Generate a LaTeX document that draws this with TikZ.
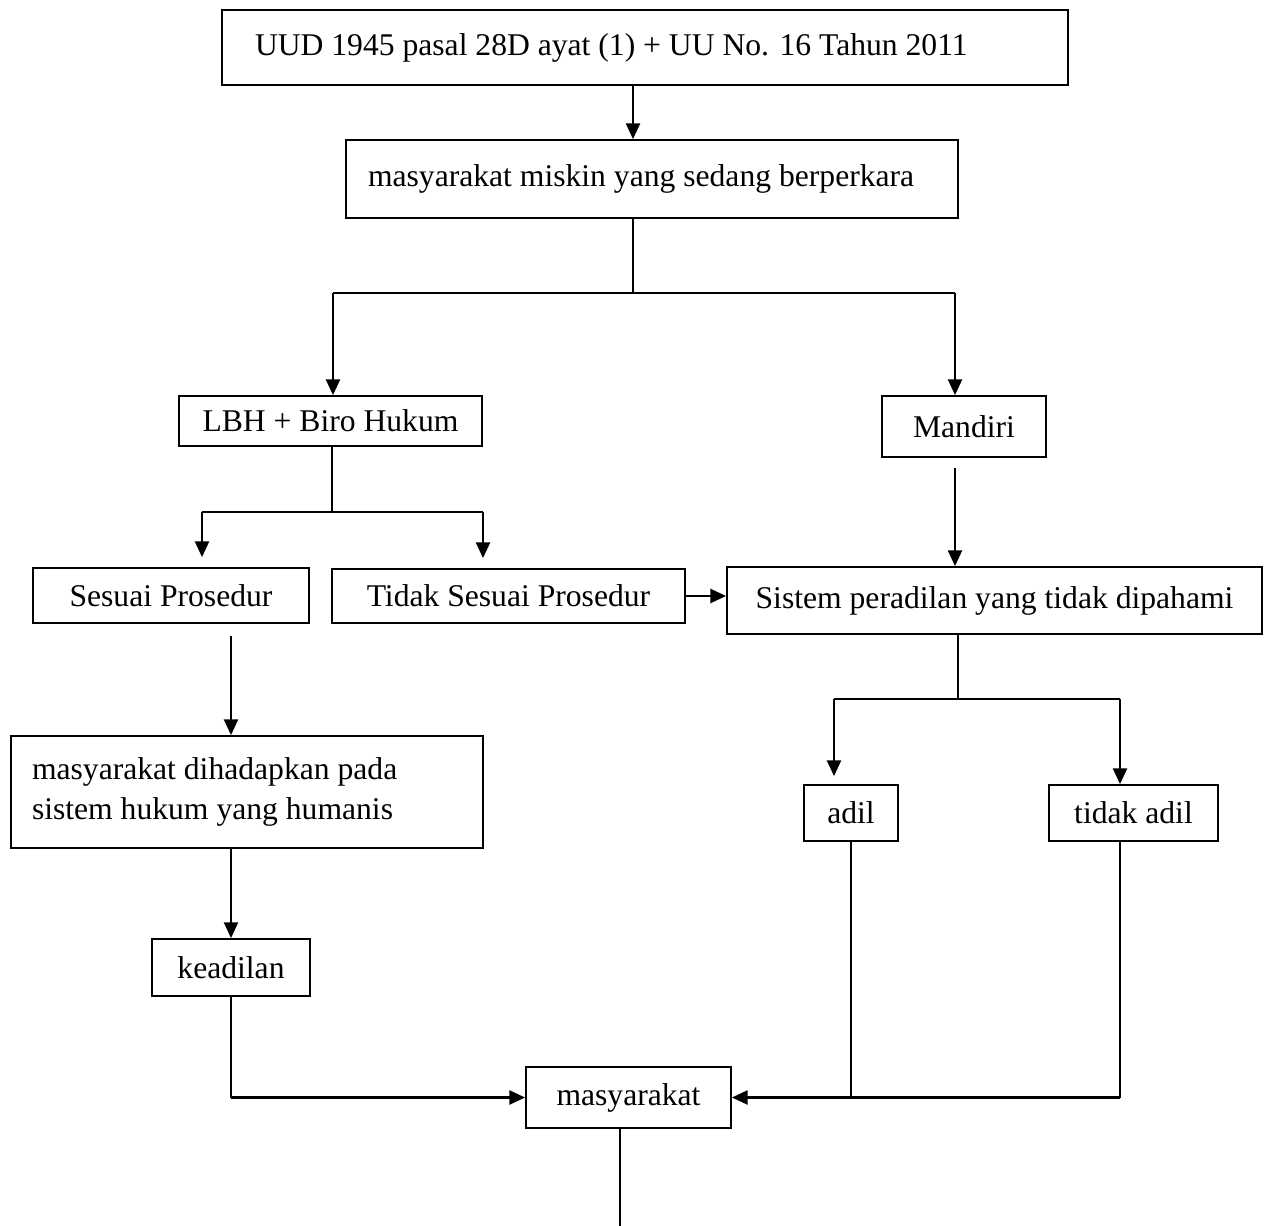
\documentclass[tikz,border=0pt]{standalone}
\usepackage{fontspec}
\setmainfont{Liberation Serif}
\usetikzlibrary{arrows.meta}
\begin{document}
\begin{tikzpicture}[
  x=0.02cm, y=-0.02cm,
  box/.style={draw, line width=1pt, rectangle, align=center,
              font=\fontsize{18}{23}\selectfont, inner sep=0pt},
  wh/.style 2 args={minimum width=#1*0.02cm, minimum height=#2*0.02cm},
  pad/.style 2 args={align=flush left, text width=#1*0.02cm, inner xsep=#2*0.02cm},
  ln/.style={line width=0.7pt},
  arr/.style={line width=1.3pt, -{Triangle[length=9pt, width=8pt]}},
  gap/.style={shorten >=0.2cm}
]
\useasboundingbox (0,0) rectangle (1267,1226);
\node[box, pad={780}{33}, minimum height=75*0.02cm] (uud) at (645, 47.5)
      {UUD 1945 pasal 28D ayat (1) + UU No. 16 Tahun 2011};
\node[box, pad={568}{22}, minimum height=78*0.02cm] (miskin) at (652, 179)
      {masyarakat miskin yang sedang berperkara};
\node[box, wh={303}{50}]  (lbh)      at (330.5, 421)  {LBH + Biro Hukum};
\node[box, wh={164}{61}]  (mandiri)  at (964,  426.5) {Mandiri};
\node[box, wh={276}{55}]  (sesuai)   at (171,  595.5) {Sesuai Prosedur};
\node[box, wh={353}{54}]  (tidak)    at (508.5, 596)  {Tidak Sesuai Prosedur};
\node[box, wh={535}{67}]  (sistem)   at (994.5, 600.5) {Sistem peradilan yang tidak dipahami};
\node[box, pad={430}{21}, minimum height=112*0.02cm] (humanis) at (247, 792)
      {masyarakat dihadapkan pada\\sistem hukum yang humanis};
\node[box, wh={94}{56}]   (adil)     at (851,  813)   {adil};
\node[box, wh={169}{56}]  (tdkadil)  at (1133.5, 813) {tidak adil};
\node[box, wh={158}{57}]  (keadilan) at (231,  967.5) {keadilan};
\node[box, wh={205}{61}]  (masy)     at (628.5, 1097.5) {masyarakat};
\coordinate (j1)  at (633,  293);
\coordinate (j1l) at (333,  293);
\coordinate (j1r) at (955,  293);
\coordinate (j2)  at (332,  512);
\coordinate (j2l) at (202,  512);
\coordinate (j2r) at (483,  512);
\coordinate (j3)  at (958,  699);
\coordinate (j3l) at (834,  699);
\coordinate (j3r) at (1120, 699);
\coordinate (bot) at (620, 1226);
\draw[arr] (j1 |- uud.south) -- (j1 |- miskin.north);
\draw[ln] (j1 |- miskin.south) -- (j1);
\draw[ln] (j1l) -- (j1r);
\draw[arr] (j1l) -- (j1l |- lbh.north);
\draw[arr] (j1r) -- (j1r |- mandiri.north);
\draw[ln] (j2 |- lbh.south) -- (j2);
\draw[ln] (j2l) -- (j2r);
\draw[arr, gap] (j2l) -- (j2l |- sesuai.north);
\draw[arr, gap] (j2r) -- (j2r |- tidak.north);
\draw[arr] (tidak.east) -- (tidak.east -| sistem.west);
\draw[arr, shorten <=0.2cm] (j1r |- mandiri.south) -- (j1r |- sistem.north);
\draw[arr, shorten <=0.24cm] (sesuai.south -| keadilan) -- (humanis.north -| keadilan);
\draw[arr] (humanis.south -| keadilan) -- (keadilan.north);
\draw[ln] (j3 |- sistem.south) -- (j3);
\draw[ln] (j3l) -- (j3r);
\draw[arr, shorten >=0.16cm] (j3l) -- (j3l |- adil.north);
\draw[arr] (j3r) -- (j3r |- tdkadil.north);
\draw[ln] (keadilan.south) -- (keadilan |- masy);
\draw[arr] (keadilan |- masy) -- (masy.west);
\draw[ln] (adil.south) -- (adil |- masy);
\draw[ln] (j3r |- tdkadil.south) -- (j3r |- masy);
\draw[arr] (j3r |- masy) -- (masy.east);
\draw[ln] (masy.south -| bot) -- (bot);
\end{tikzpicture}
\end{document}
